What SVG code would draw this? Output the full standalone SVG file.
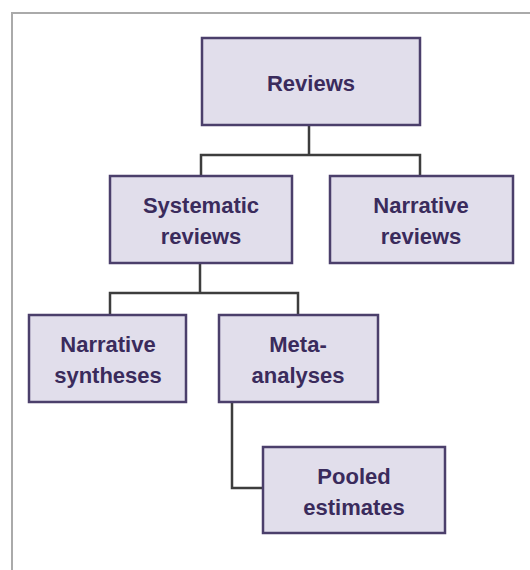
<svg xmlns="http://www.w3.org/2000/svg" width="530" height="570" viewBox="0 0 530 570">
<style>
.box{fill:#e1deeb;stroke:#4b3f6b;stroke-width:2.5}
.lbl{font-family:"Liberation Sans",Arial,sans-serif;font-weight:bold;font-size:22px;fill:#3a2b5c;text-anchor:middle}
.conn{fill:none;stroke:#3d3d3d;stroke-width:2.5}
</style>
<rect width="530" height="570" fill="#ffffff"/>
<path d="M12,570 V13 H530" fill="none" stroke="#aaaaaa" stroke-width="2"/>
<g id="connectors">
<path class="conn" d="M309,125 V155 M201,176 V155 H420 V176"/>
<path class="conn" d="M200,263 V293 M110,315 V293 H298 V315"/>
<path class="conn" d="M232,402 V488 H263"/>
</g>
<g id="reviews">
<rect class="box" x="202" y="38" width="218" height="87"/>
<text class="lbl" x="311" y="91">Reviews</text>
</g>
<g id="systematic">
<rect class="box" x="110" y="176" width="182" height="87"/>
<text class="lbl" x="201" y="213">Systematic</text>
<text class="lbl" x="201" y="244">reviews</text>
</g>
<g id="narrative-reviews">
<rect class="box" x="330" y="176" width="183" height="87"/>
<text class="lbl" x="421" y="213">Narrative</text>
<text class="lbl" x="421" y="244">reviews</text>
</g>
<g id="narrative-syntheses">
<rect class="box" x="29" y="315" width="157" height="87"/>
<text class="lbl" x="108" y="352">Narrative</text>
<text class="lbl" x="108" y="383">syntheses</text>
</g>
<g id="meta-analyses">
<rect class="box" x="219" y="315" width="159" height="87"/>
<text class="lbl" x="298" y="352">Meta-</text>
<text class="lbl" x="298" y="383">analyses</text>
</g>
<g id="pooled">
<rect class="box" x="263" y="447" width="182" height="86"/>
<text class="lbl" x="354" y="484">Pooled</text>
<text class="lbl" x="354" y="515">estimates</text>
</g>
</svg>
